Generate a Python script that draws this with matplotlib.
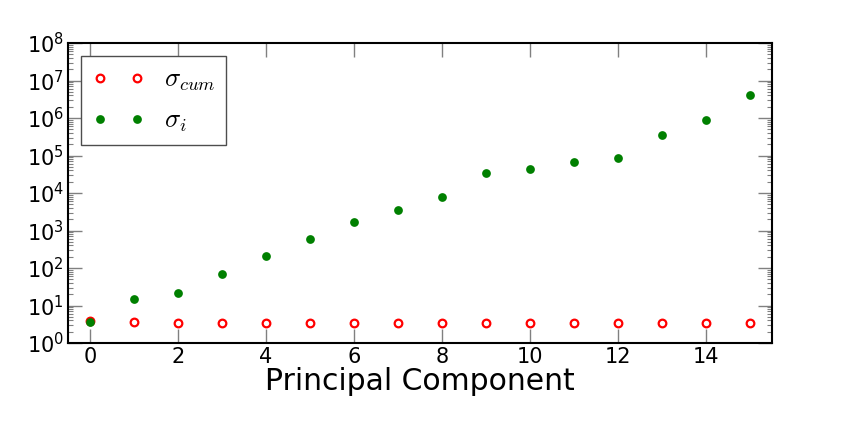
import matplotlib
matplotlib.use("Agg")
import matplotlib.pyplot as plt
from matplotlib.ticker import LogLocator, FixedLocator

plt.rcParams["mathtext.fontset"] = "cm"

components = list(range(16))
sigma_cum = [3.8, 3.6, 3.5, 3.5, 3.5, 3.5, 3.5, 3.5, 3.5, 3.5, 3.5, 3.5, 3.5, 3.5, 3.5, 3.5]
sigma_i = [3.7, 14.9, 22, 70, 209, 580, 1720, 3520, 7820, 34100, 43700,
           65400, 85800, 352000, 885000, 4.2e6]
x_ticks = [0, 2, 4, 6, 8, 10, 12, 14]

fig = plt.figure(figsize=(8.58, 4.29), dpi=100)
ax = fig.add_axes([68 / 858, 1 - 343 / 429, (772 - 68) / 858, (343 - 43) / 429])

ax.plot(components, sigma_cum, linestyle="none", marker="o", markersize=5.5,
        markerfacecolor="none", markeredgecolor="red", markeredgewidth=1.6,
        label=r"$\sigma_{cum}$")
ax.plot(components, sigma_i, linestyle="none", marker="o", markersize=6.3,
        markerfacecolor="green", markeredgecolor="green", markeredgewidth=0,
        label=r"$\sigma_i$")

ax.set_yscale("log")
ax.set_ylim(1, 1e8)
ax.set_xlim(-0.5, 15.5)
ax.xaxis.set_major_locator(FixedLocator(x_ticks))
ax.yaxis.set_major_locator(LogLocator(base=10, numticks=20))
ax.yaxis.set_minor_locator(LogLocator(base=10, subs=range(2, 10), numticks=20))
ax.tick_params(axis="both", which="both", direction="in", color="0.5",
               top=True, right=True, labelsize=15)
ax.tick_params(axis="both", which="major", length=10, width=1)
ax.tick_params(axis="both", which="minor", length=3.5, width=0.8)
ax.tick_params(axis="x", pad=3)
ax.tick_params(axis="y", pad=3)
for s in ax.spines.values():
    s.set_linewidth(1.5)
    s.set_color("black")

ax.set_xlabel("Principal Component", fontsize=21.5, labelpad=0)

leg = ax.legend(loc="upper left", numpoints=2, fontsize=19, fancybox=False,
                frameon=True, borderpad=0.4, handlelength=2.0, handletextpad=0.75,
                labelspacing=0.55, borderaxespad=0.5)
leg.get_frame().set_edgecolor("0.3")
leg.get_frame().set_linewidth(1.0)
leg.get_frame().set_alpha(1)

fig.savefig("out.png", dpi=100)
